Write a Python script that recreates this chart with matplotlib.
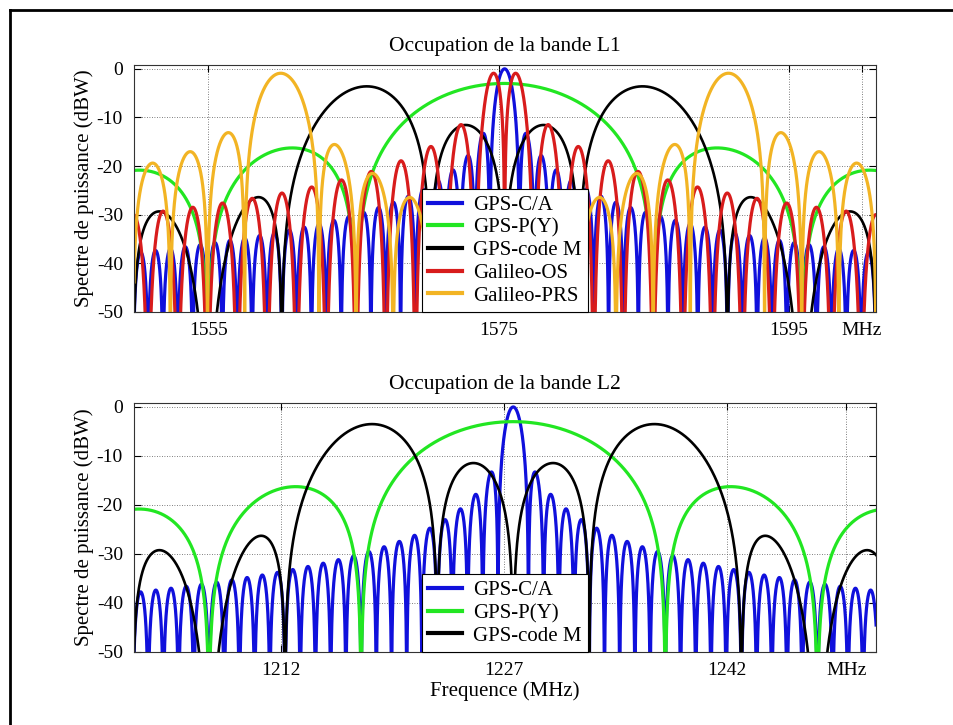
import numpy as np
import matplotlib
matplotlib.use("Agg")
import matplotlib.pyplot as plt
from matplotlib.lines import Line2D

# ---------------- data ----------------
# L1 band
l1_labels = ["GPS-C/A", "GPS-P(Y)", "GPS-code M", "Galileo-OS", "Galileo-PRS"]
l1_center = [1575.42, 1575.42, 1575.42, 1575.42, 1575.42]      # MHz
l1_chip = [1.023, 10.23, 5.115, 1.023, 2.5575]                   # MHz
l1_subcarrier = [0.0, 0.0, 10.23, 1.023, 15.345]                # MHz (0 = BPSK)
l1_phase = ["none", "none", "sin", "sin", "cos"]
l1_peak_db = [0.0, -3.0, -3.6, -0.9, -0.9]
l1_xlim = [1549.9, 1601.0]
l1_ticks = [1555, 1575, 1595, 1600]
l1_ticklabels = ["1555", "1575", "1595", "MHz"]

# L2 band
l2_labels = ["GPS-C/A", "GPS-P(Y)", "GPS-code M"]
l2_center = [1227.6, 1227.6, 1227.6]
l2_chip = [1.023, 10.23, 5.115]
l2_subcarrier = [0.0, 0.0, 10.23]
l2_phase = ["none", "none", "sin"]
l2_peak_db = [0.0, -3.0, -3.5]
l2_xlim = [1202.1, 1252.0]
l2_ticks = [1212, 1227, 1242, 1250]
l2_ticklabels = ["1212", "1227", "1242", "MHz"]

y_ticks = [0, -10, -20, -30, -40, -50]
y_lim = [-50, 0.8]

colors = {"GPS-C/A": "#1010dc", "GPS-P(Y)": "#22e622", "GPS-code M": "#000000",
          "Galileo-OS": "#d81c1c", "Galileo-PRS": "#f2b424"}
widths = {"GPS-C/A": 2.3, "GPS-P(Y)": 2.3, "GPS-code M": 1.9,
          "Galileo-OS": 2.3, "Galileo-PRS": 2.3}


def psd_shape(df, fc, fs, phase):
    """Normalised power spectral density of BPSK / BOC modulations."""
    x = np.pi * df
    with np.errstate(divide="ignore", invalid="ignore"):
        if phase == "none":
            g = np.sinc(df / fc) ** 2
        elif phase == "sin":
            g = (np.sin(x / fc) * np.sin(x / (2 * fs)) / (x * np.cos(x / (2 * fs)))) ** 2
        else:
            g = (2 * np.sin(x / fc) * np.sin(x / (4 * fs)) ** 2 /
                 (x * np.cos(x / (2 * fs)))) ** 2
    g = np.where(np.isfinite(g), g, np.nan)
    g = g / np.nanmax(g)
    return 10 * np.log10(np.maximum(g, 1e-12))


plt.rcParams["font.family"] = ["Liberation Serif", "DejaVu Serif"]
plt.rcParams["axes.unicode_minus"] = False
fs_tick = 14
fs_txt = 15

fig = plt.figure(figsize=(9.54, 7.25), dpi=100)
ax1 = fig.add_axes([0.1405, 0.5697, 0.7778, 0.3407])
ax2 = fig.add_axes([0.1405, 0.1007, 0.7778, 0.3434])


def draw(ax, labels, centers, chips, subs, phases, peaks, xlim, ticks, ticklabels, title):
    f = np.linspace(xlim[0] - 0.5, xlim[1] + 0.5, 40001) + 1.3e-7
    for lab, c0, fc, fsub, ph, pk in zip(labels, centers, chips, subs, phases, peaks):
        y = psd_shape(f - c0, fc, fsub, ph) + pk
        ax.plot(f, y, color=colors[lab], lw=widths[lab], label=lab)
    ax.set_xlim(xlim)
    ax.set_ylim(y_lim)
    ax.set_xticks(ticks)
    ax.set_xticklabels(ticklabels)
    ax.set_yticks(y_ticks)
    ax.tick_params(direction="in", top=True, right=True, length=5, width=0.8,
                   labelsize=fs_tick)
    ax.tick_params(axis="x", pad=7)
    ax.tick_params(axis="y", pad=8)
    ax.grid(True, linestyle=(0, (1, 2)), color="#555555", lw=0.6)
    for s in ax.spines.values():
        s.set_color("#333333")
        s.set_linewidth(0.8)
    ax.set_title(title, fontsize=fs_txt + 0.5, pad=10)
    ax.set_ylabel("Spectre de puissance (dBW)", fontsize=fs_txt, labelpad=2)
    leg = ax.legend(loc="lower center", borderaxespad=0, fontsize=fs_txt,
                    fancybox=False, framealpha=1, edgecolor="black",
                    handlelength=1.6, handletextpad=0.55, labelspacing=0.15,
                    borderpad=0.3)
    leg.get_frame().set_linewidth(0.8)
    for h in leg.get_lines():
        h.set_linewidth(3)


draw(ax1, l1_labels, l1_center, l1_chip, l1_subcarrier, l1_phase, l1_peak_db,
     l1_xlim, l1_ticks, l1_ticklabels, "Occupation de la bande L1")
draw(ax2, l2_labels, l2_center, l2_chip, l2_subcarrier, l2_phase, l2_peak_db,
     l2_xlim, l2_ticks, l2_ticklabels, "Occupation de la bande L2")
ax2.set_xlabel("Frequence (MHz)", fontsize=fs_txt, labelpad=2)

# frame lines (top and left) of the original figure
fig.add_artist(Line2D([10 / 954, 1.0], [1 - 10 / 725, 1 - 10 / 725],
                      transform=fig.transFigure, color="black", lw=2))
fig.add_artist(Line2D([10 / 954, 10 / 954], [0, 1 - 10 / 725],
                      transform=fig.transFigure, color="black", lw=2))

fig.savefig("out.png", dpi=100)
